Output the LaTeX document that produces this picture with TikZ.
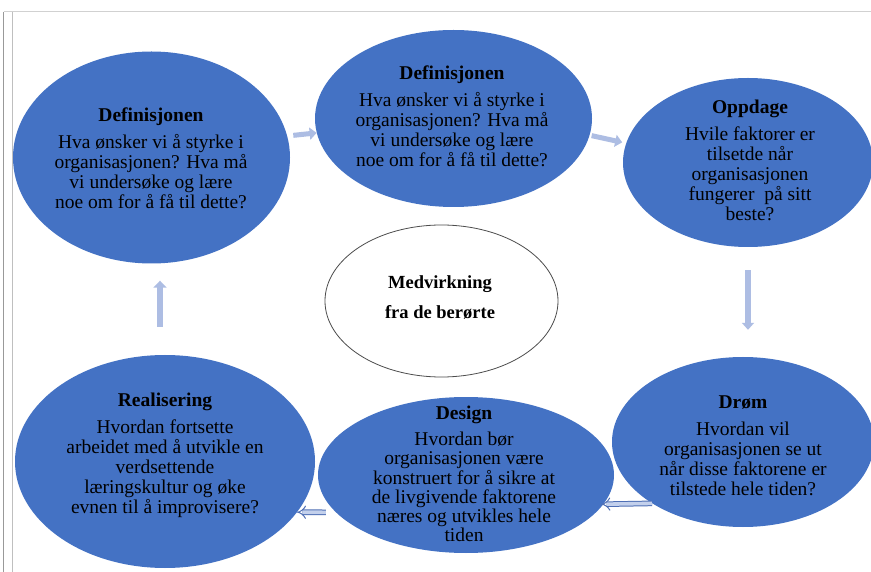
\documentclass[tikz,border=0pt]{standalone}
\usepackage{fontspec}
\setmainfont{Liberation Serif}
\usetikzlibrary{shapes.geometric,arrows.meta,calc}
\definecolor{ellblue}{HTML}{4472C4}
\definecolor{arrowc}{HTML}{ADBDE3}
\definecolor{hollowc}{HTML}{4F6FB5}
\definecolor{hollowfill}{HTML}{C3D0EC}
\definecolor{txtc}{HTML}{000000}
\begin{document}
\begin{tikzpicture}[x=1pt,y=-1pt,
  bubble/.style={ellipse, fill=ellblue, draw=none, inner sep=0pt},
  centerbubble/.style={ellipse, fill=white, draw=black!70, line width=0.8pt, inner sep=0pt},
  txt/.style={align=center, font=\fontsize{19.5}{20}\selectfont, text=txtc, inner sep=0pt},
  ctxt/.style={align=center, font=\fontsize{18.5}{20}\selectfont\bfseries, text=txtc, inner sep=0pt},
  fatarrow/.style={draw=arrowc, line width=5pt, -{Triangle[width=12pt,length=7pt]}},
  hollowarrow/.style={draw=hollowc, double=hollowfill, double distance=3.6pt, line width=1pt, -{Implies}},
  frameline/.style={line width=1pt}
]
\useasboundingbox (0,0) rectangle (871,572);
\clip (0,0) rectangle (871,572);
\fill[white] (0,0) rectangle (871,572);

% frame lines
\draw[frameline, draw=black!18] (3.5,12) -- (871,12);
\draw[frameline, draw=black!40, line width=1.3pt] (3.5,12) -- (3.5,572);
\draw[frameline, draw=black!25] (12.5,12) -- (12.5,572);

% ellipses
\node[bubble, minimum width=277pt, minimum height=212pt] (tl) at (151.5,157.5) {};
\node[bubble, minimum width=277pt, minimum height=177pt] (mt) at (453.5,118.5) {};
\node[bubble, minimum width=250pt, minimum height=169pt] (op) at (748,162.5) {};
\node[bubble, minimum width=262pt, minimum height=170pt] (dr) at (743,442) {};
\node[bubble, minimum width=300pt, minimum height=213pt] (re) at (165,461.5) {};
\node[bubble, minimum width=296pt, minimum height=156pt] (ds) at (466,475) {};
\node[centerbubble, minimum width=233pt, minimum height=152pt] (ce) at (441.5,301) {};

% texts
\node[txt] (tlt) at (151,158.6) {\textbf{Definisjonen}\\[7pt]Hva ønsker vi å styrke i\\organisasjonen? Hva må\\vi undersøke og lære\\noe om for å få til dette?};
\node[txt] (mtt) at (452,116.7) {\textbf{Definisjonen}\\[7pt]Hva ønsker vi å styrke i\\organisasjonen? Hva må\\vi undersøke og lære\\noe om for å få til dette?};
\node[txt] (opt) at (750,160.6) {\textbf{Oppdage}\\[7pt]Hvile faktorer er\\tilsetde når\\organisasjonen\\fungerer~ på sitt\\beste?};
\node[txt] (drt) at (743,445.6) {\textbf{Drøm}\\[7pt]Hvordan vil\\organisasjonen se ut\\når disse faktorene er\\tilstede hele tiden?};
\node[txt] (ret) at (165,455.8) {\textbf{Realisering}\\[7pt]Hvordan fortsette\\arbeidet med å utvikle en\\verdsettende\\læringskultur og øke\\evnen til å improvisere?};
\node[txt, font=\fontsize{19.5}{19.2}\selectfont] (dst) at (464,474) {\textbf{Design}\\[7pt]Hvordan bør\\organisasjonen være\\konstruert for å sikre at\\de livgivende faktorene\\næres og utvikles hele\\tiden};
\node[ctxt] (cet) at (440,297) {Medvirkning\\[10pt]fra de berørte};

% arrows
\draw[fatarrow, shorten <=6pt] (tl.9) -- (mt.186);
\draw[fatarrow, shorten <=2pt, shorten >=4pt] (mt.-7) -- (op.171);
\draw[fatarrow, line width=5.5pt, shorten <=23pt, shorten >=27pt] (op.south) -- (op.south |- dr.north);
\draw[hollowarrow, shorten >=-2pt] (dr.214) -- (ds.-12);
\draw[hollowarrow, shorten <=10pt] (ds.196) -- (re.-21);
\draw[fatarrow, line width=6pt, -{Triangle[width=13pt,length=7pt]}, shorten <=28pt, shorten >=17pt] ([xshift=-5pt]re.north) -- ([xshift=-5pt]re.north |- tl.south);
\end{tikzpicture}
\end{document}
